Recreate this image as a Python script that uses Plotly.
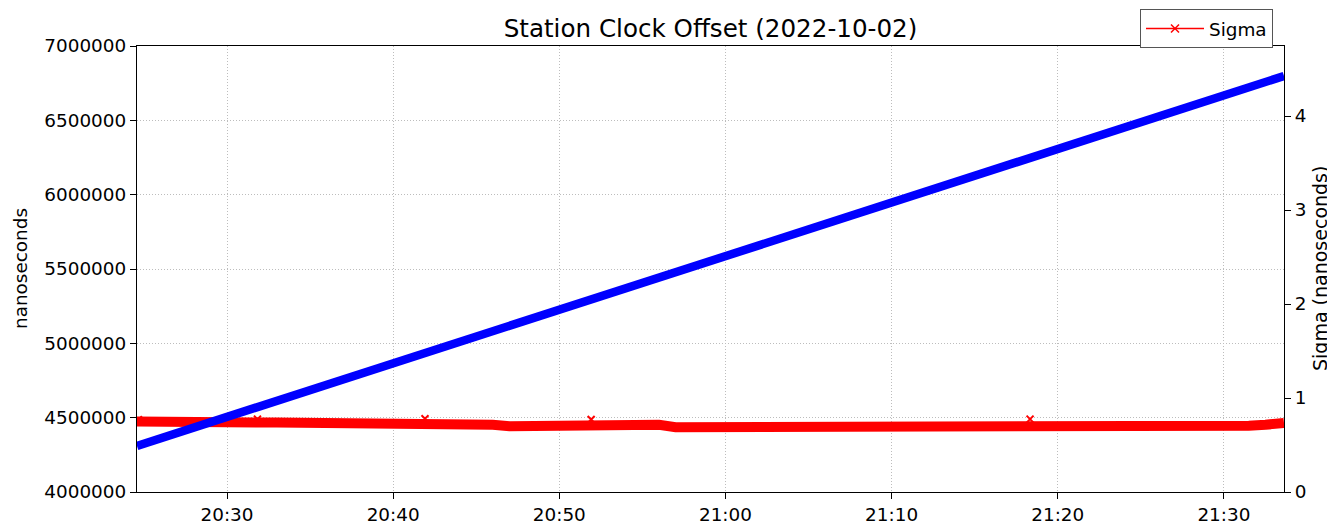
import plotly.graph_objects as go

DATE = "2022-10-02"

# Station clock offset (nanoseconds)
offset_times = ["20:24:35", "20:30:00", "20:40:00", "20:50:00", "21:00:00",
                "21:10:00", "21:20:00", "21:30:00", "21:33:37"]
offset_ns = [4310000, 4505000, 4866000, 5226000, 5587000,
             5947000, 6307000, 6668000, 6798000]

# Sigma (nanoseconds), about one value per minute
sigma_times = ["20:24:35", "20:25:00", "20:26:00", "20:27:00", "20:28:00", "20:29:00",
               "20:30:00", "20:31:00", "20:32:00", "20:33:00", "20:34:00", "20:35:00",
               "20:36:00", "20:37:00", "20:38:00", "20:40:00", "20:42:00", "20:44:00",
               "20:46:00", "20:47:00", "20:49:00", "20:51:00", "20:52:00", "20:54:00",
               "20:56:00", "20:57:00", "20:59:00", "21:01:00", "21:02:00", "21:04:00",
               "21:06:00", "21:07:00", "21:09:00", "21:11:00", "21:12:00", "21:14:00",
               "21:15:30", "21:16:00", "21:18:00", "21:21:00", "21:22:00", "21:24:00",
               "21:26:00", "21:27:00", "21:29:00", "21:30:30", "21:31:30", "21:32:30",
               "21:33:37"]
sigma_vals = [0.750, 0.748, 0.745, 0.745, 0.742, 0.740,
              0.738, 0.740, 0.740, 0.740, 0.740, 0.738,
              0.735, 0.720, 0.720, 0.720, 0.718, 0.718,
              0.715, 0.700, 0.700, 0.700, 0.720, 0.718,
              0.715, 0.690, 0.690, 0.692, 0.708, 0.706,
              0.705, 0.688, 0.688, 0.690, 0.705, 0.702,
              0.700, 0.686, 0.686, 0.688, 0.705, 0.703,
              0.700, 0.686, 0.686, 0.690, 0.705, 0.715,
              0.735]

# isolated higher sigma samples visible as single x markers
spike_times = ["20:24:40", "20:31:50", "20:41:55", "20:51:55", "21:18:20"]
spike_vals = [0.770, 0.775, 0.780, 0.772, 0.775]


def ts(t):
    return f"{DATE} {t}"


fig = go.Figure()

# Sigma on the primary (right) axis so the offset line is drawn over it
fig.add_trace(go.Scatter(
    x=[ts(t) for t in sigma_times], y=sigma_vals, yaxis="y",
    mode="lines", line=dict(color="#ff0000", width=10),
    showlegend=False, hoverinfo="x+y"))
fig.add_trace(go.Scatter(
    x=[ts(t) for t in spike_times], y=spike_vals, yaxis="y",
    mode="markers",
    marker=dict(symbol="x-thin", size=7, color="#ff0000",
                line=dict(color="#ff0000", width=2)),
    showlegend=False))
fig.add_trace(go.Scatter(
    x=[None], y=[None], yaxis="y", name="Sigma",
    mode="lines+markers", line=dict(color="#ff0000", width=1.5),
    marker=dict(symbol="x-thin", size=8, color="#ff0000",
                line=dict(color="#ff0000", width=1.5))))

fig.add_trace(go.Scatter(
    x=[ts(t) for t in offset_times], y=offset_ns, yaxis="y2",
    mode="lines", line=dict(color="#0000ff", width=8.5),
    showlegend=False))

FONT = "DejaVu Sans"
tickfont = dict(family=FONT, size=18.4, color="#000000")
GRID = dict(showgrid=True, gridcolor="#bdbdbd", griddash="1px,2px", gridwidth=1)

# the page body adds an 8px offset, so the figure is 8px smaller than the window
W, H = 1327, 521

fig.update_layout(
    width=W, height=H,
    margin=dict(l=129, r=51, t=38, b=37, autoexpand=False),
    paper_bgcolor="white", plot_bgcolor="white",
    font=dict(family=FONT, size=18.4, color="#000000"),
    title=dict(text="Station Clock Offset (2022-10-02)",
               font=dict(family=FONT, size=24.6, color="#000000"),
               x=0.5, xref="paper", xanchor="center",
               y=1 - 20 / H, yref="container", yanchor="middle"),
    xaxis=dict(
        type="date",
        range=[ts("20:24:35"), ts("21:33:37")],
        tick0=ts("20:30:00"), dtick=600000, tickformat="%H:%M",
        ticks="outside", ticklen=6, tickwidth=1, tickcolor="#000000",
        tickfont=tickfont, automargin=False,
        showline=True, linecolor="#000000", linewidth=1.2, mirror=True,
        zeroline=False, **GRID),
    yaxis=dict(
        side="right", range=[0, 4.745], tick0=0, dtick=1,
        ticks="outside", ticklen=6, tickwidth=1, tickcolor="#000000",
        tickfont=tickfont, automargin=False,
        showline=True, linecolor="#000000", linewidth=1.2,
        showgrid=False, zeroline=False),
    yaxis2=dict(
        overlaying="y", side="left", range=[4000000, 7000000],
        tick0=4000000, dtick=500000, tickformat="d",
        ticks="outside", ticklen=6, tickwidth=1, tickcolor="#000000",
        tickfont=tickfont, automargin=False,
        showline=True, linecolor="#000000", linewidth=1.2,
        zeroline=False, **GRID),
    legend=dict(
        x=(1273 - 137) / 1147, xanchor="right",
        y=(492 - 9) / 446, yanchor="top",
        bgcolor="white", bordercolor="#555555", borderwidth=1,
        font=dict(family=FONT, size=18.4, color="#000000"),
        itemwidth=58),
    annotations=[
        dict(text="nanoseconds", textangle=-90, showarrow=False,
             xref="paper", yref="paper", x=(20 - 137) / 1147, y=0.5,
             xanchor="center", yanchor="middle",
             font=dict(family=FONT, size=18.4, color="#000000")),
        dict(text="Sigma (nanoseconds)", textangle=-90, showarrow=False,
             xref="paper", yref="paper", x=(1320 - 137) / 1147, y=0.5,
             xanchor="center", yanchor="middle",
             font=dict(family=FONT, size=19, color="#000000")),
    ],
)

fig.write_html("out.html")
